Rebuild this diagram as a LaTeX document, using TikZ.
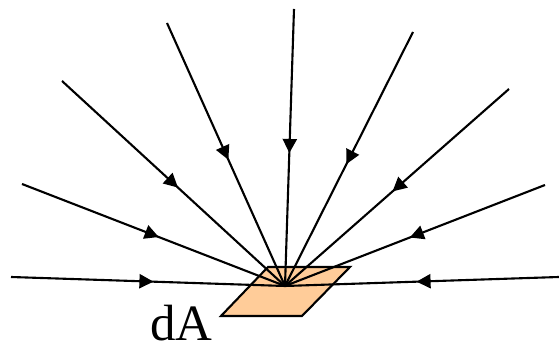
\documentclass[tikz,border=0pt]{standalone}
\usepackage{fontspec}
\setmainfont{Liberation Serif}
\usepackage{tikz}
\usetikzlibrary{arrows.meta, decorations.markings}
\definecolor{cPeach}{RGB}{255,204,153}
\tikzset{
    ray/.style={line width=1.2pt, postaction={decorate},
        decoration={markings, mark=at position 0.52 with {\arrow{Triangle[length=8pt, width=8pt]}}}},
    patch/.style={draw=black, line width=1.2pt, fill=cPeach, line join=miter},
}

\begin{document}
\begin{tikzpicture}[x=0.02cm, y=-0.02cm]
    \useasboundingbox (0,0) rectangle (559,350);
    % surface element
    \draw[patch] (221,316) -- (302,316) -- (350,267) -- (268,267) -- cycle;
    \coordinate (focus) at (285,286);
    \node[anchor=base west, inner sep=0pt, font=\fontsize{29}{31}\selectfont] (label) at (150,341) {dA};
    % incoming rays
    \foreach \n/\px/\py in {a/11/277, b/22/184, c/62/81, d/167/23, e/294/9, f/413/32, g/509/89, h/545/185, i/559/277} {
        \coordinate (r\n) at (\px,\py);
        \draw[ray] (r\n) -- (focus);
    }
\end{tikzpicture}
\end{document}
